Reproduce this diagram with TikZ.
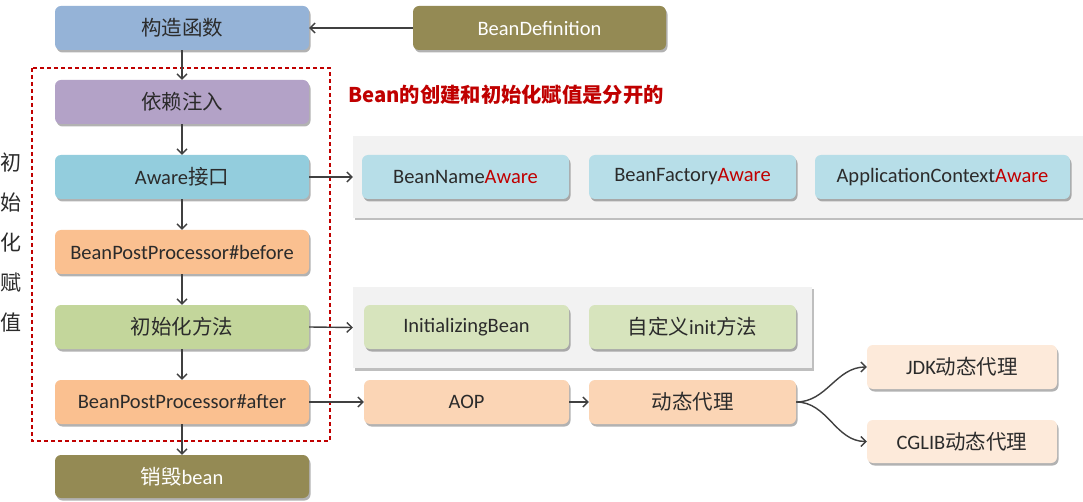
\documentclass[tikz,border=0pt]{standalone}
\usepackage{fontspec}
\setmainfont{Carlito}
\newfontfamily\cjk{Noto Sans CJK SC}
\usetikzlibrary{arrows.meta,shadows}
\definecolor{cctor}{HTML}{95B3D7}
\definecolor{cdep}{HTML}{B3A2C7}
\definecolor{caware}{HTML}{93CDDD}
\definecolor{cbpp}{HTML}{FAC090}
\definecolor{cinit}{HTML}{C3D69B}
\definecolor{colive}{HTML}{948A54}
\definecolor{cawl}{HTML}{B7DEE8}
\definecolor{cinl}{HTML}{D7E4BD}
\definecolor{caop}{HTML}{FBD5B5}
\definecolor{cjdk}{HTML}{FDEADA}
\definecolor{cred}{HTML}{C00000}
\definecolor{cpanel}{HTML}{F2F2F2}
\definecolor{ctext}{HTML}{2B2B2B}
\definecolor{carrow}{HTML}{404040}
\newcommand\boxfont{\fontsize{20.5}{24}\selectfont}
\newcommand\aw{\textcolor{cred}{Aware}}
\tikzset{
  box/.style={rounded corners=6pt, minimum width=254pt, minimum height=44pt,
    inner sep=0pt, font=\boxfont, text=ctext,
    drop shadow={shadow xshift=1.5pt, shadow yshift=-2.5pt, opacity=0.3, fill=black}},
  panel/.style={fill=cpanel, inner sep=0pt,
    drop shadow={shadow xshift=2pt, shadow yshift=-2.5pt, opacity=0.25, fill=black}},
  arr/.style={draw=carrow, line width=1.4pt, -{Straight Barb[length=5pt,width=10pt]}},
}
\begin{document}
\begin{tikzpicture}[x=1pt,y=-1pt]
\useasboundingbox[fill=white] (0,0) rectangle (1083,502);
% panels
\node[panel, minimum width=730pt, minimum height=82pt] (p1) at (718,177) {};
\node[panel, minimum width=459pt, minimum height=81pt] (p2) at (582.5,327.5) {};
% main column
\node[box, fill=cctor] (ctor) at (182,28) {\cjk 构造函数};
\node[box, fill=colive, text=white, minimum width=253pt] (bdef) at (539.5,28) {BeanDefinition};
\node[box, fill=cdep] (dep) at (182,102) {\cjk 依赖注入};
\node[box, fill=caware] (aware) at (182,177) {Aware{\cjk 接口}};
\node[box, fill=cbpp] (before) at (182,252) {BeanPostProcessor\#before};
\node[box, fill=cinit] (init) at (182,327) {\cjk 初始化方法};
\node[box, fill=cbpp] (after) at (182,402) {BeanPostProcessor\#after};
\node[box, fill=colive, text=white, minimum height=43pt] (destroy) at (182,476.5) {{\cjk 销毁}bean};
% aware panel
\node[box, fill=cawl, minimum width=207pt] (bna) at (465.5,177) {BeanName\aw};
\node[box, fill=cawl, minimum width=207pt] (bfa) at (692.5,177) {BeanFactory\aw};
\node[box, fill=cawl, minimum width=255pt] (aca) at (942.5,177) {ApplicationContext\aw};
% init panel
\node[box, fill=cinl, minimum width=205pt] (ib) at (466.5,327) {InitializingBean};
\node[box, fill=cinl, minimum width=207pt] (cin) at (692.5,327) {{\cjk 自定义}init{\cjk 方法}};
% aop row
\node[box, fill=caop, minimum width=205pt] (aop) at (466.5,402) {AOP};
\node[box, fill=caop, minimum width=207pt] (dyn) at (692.5,402) {\cjk 动态代理};
\node[box, fill=cjdk, minimum width=190pt] (jdk) at (962,367) {JDK{\cjk 动态代理}};
\node[box, fill=cjdk, minimum width=190pt, minimum height=43pt] (cglib) at (962,441.5) {CGLIB{\cjk 动态代理}};
% dashed frame
\draw[cred, dashed, line width=1.2pt, dash pattern=on 4pt off 3pt] (32,68) rectangle (330,441);
% labels
\node[anchor=west, inner sep=0pt, text=cred, font=\cjk\bfseries\fontsize{20.3}{24}\selectfont] (note) at (348,95) {Bean的创建和初始化赋值是分开的};
\node[inner sep=0pt, text=ctext, font=\cjk\fontsize{21}{24}\selectfont, align=center] (side) at (11,243)
  {初\\[16pt]始\\[16pt]化\\[16pt]赋\\[16pt]值};
% connectors
\draw[arr] (bdef.west) -- (ctor.east);
\draw[arr] (ctor.south) -- (dep.north);
\draw[arr] (dep.south) -- (aware.north);
\draw[arr] (aware.south) -- (before.north);
\draw[arr] (before.south) -- (init.north);
\draw[arr] (init.south) -- (after.north);
\draw[arr] (after.south) -- (destroy.north);
\draw[arr] (aware.east) -- (p1.west);
\draw[arr] (init.east) -- (p2.west);
\draw[arr] (after.east) -- (aop.west);
\draw[arr] (aop.east) -- (dyn.west);
\draw[arr] (dyn.east) to[out=0,in=180] (jdk.west);
\draw[arr] (dyn.east) to[out=0,in=180] (cglib.west);
\end{tikzpicture}
\end{document}
